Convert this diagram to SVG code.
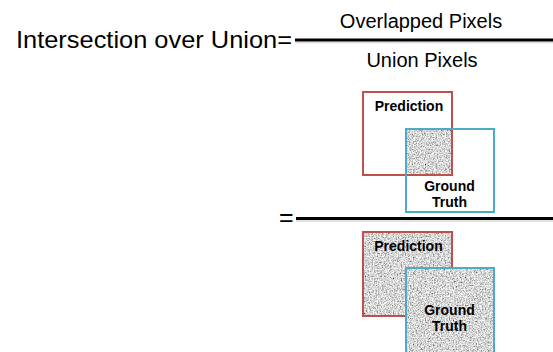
<svg xmlns="http://www.w3.org/2000/svg" width="553" height="352" viewBox="0 0 553 352">
<style>
.t{font-family:"Liberation Sans",Arial,sans-serif;fill:#000}
.b{font-family:"Liberation Sans",Arial,sans-serif;font-weight:bold;font-size:14px;fill:#000;text-anchor:middle}
.red{fill:none;stroke:#c0504d;stroke-width:2}
.blue{fill:none;stroke:#4bacc6;stroke-width:2}
.bar{stroke:#000;stroke-width:3}
.sh{stroke:#000;stroke-opacity:0.12;stroke-width:2}
</style>
<defs>
<filter id="noise" x="0" y="0" width="100%" height="100%" filterUnits="objectBoundingBox">
<feTurbulence type="fractalNoise" baseFrequency="0.75" numOctaves="2" seed="4" result="t"/>
<feColorMatrix in="t" type="matrix" values="1.7 0 0 0 -0.17  1.7 0 0 0 -0.17  1.7 0 0 0 -0.17  0 0 0 0 1"/>
</filter>
</defs>
<rect width="553" height="352" fill="#fff"/>
<g id="formula">
<text class="t" x="16" y="48" font-size="24.5" textLength="276" lengthAdjust="spacingAndGlyphs">Intersection over Union=</text>
<text class="t" x="421" y="27.5" font-size="20" text-anchor="middle">Overlapped Pixels</text>
<text class="t" x="422" y="66.5" font-size="20" text-anchor="middle">Union Pixels</text>
<text class="t" x="279" y="226" font-size="25">=</text>
</g>
<g id="connectors">
<line class="sh" x1="295" y1="42.5" x2="553" y2="42.5"/>
<line class="bar" x1="295" y1="40" x2="553" y2="40"/>
<line class="sh" x1="296" y1="221" x2="553" y2="221"/>
<line class="bar" x1="296" y1="218.5" x2="553" y2="218.5"/>
</g>
<g id="intersection">
<rect x="406" y="129" width="46" height="46" fill="#999" filter="url(#noise)"/>
<rect class="red" x="363" y="92" width="89" height="83"/>
<rect class="blue" x="406" y="129" width="88" height="83"/>
<text class="b" x="409" y="111">Prediction</text>
<text class="b" x="449.5" y="191">Ground</text>
<text class="b" x="449.5" y="207">Truth</text>
</g>
<g id="union">
<g id="union-prediction">
<rect x="363" y="232" width="89" height="84" fill="#999" filter="url(#noise)"/>
<rect class="red" x="363" y="232" width="89" height="84"/>
<text class="b" x="408.5" y="251">Prediction</text>
</g>
<g id="union-ground-truth">
<rect x="406" y="268" width="88" height="90" fill="#999" filter="url(#noise)"/>
<rect class="blue" x="406" y="268" width="88" height="90"/>
<text class="b" x="449.5" y="315">Ground</text>
<text class="b" x="449.5" y="331">Truth</text>
</g>
</g>
</svg>
